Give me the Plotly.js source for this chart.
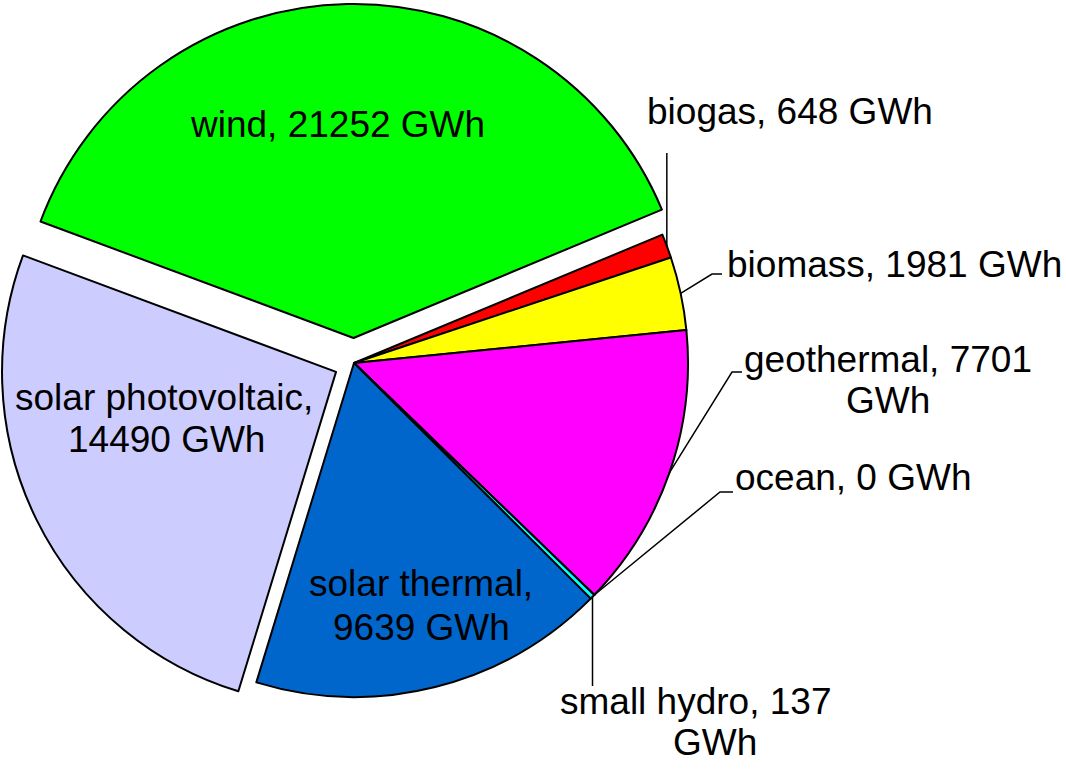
<!DOCTYPE html>
<html><head><meta charset="utf-8">
<script src="https://cdn.plot.ly/plotly-3.0.1.min.js"></script>
<style>html,body{margin:0;padding:0;overflow:hidden;background:#fff}
#chart{position:absolute;left:-10px;top:0;width:1076px;height:778px}</style>
</head><body><div id="chart"></div>
<script>
// ---- data (clockwise order as drawn) ----
const categories = ['biogas','biomass','geothermal','ocean','small hydro','solar thermal','solar photovoltaic','wind'];
const values = [648, 1981, 7701, 0, 137, 9639, 14490, 21252];
const unit = 'GWh';
const colors = ['#FF0000','#FFFF00','#FF00FF','#000080','#00FFFF','#0066CC','#CCCCFF','#00FF00'];
const pulls = [0, 0, 0, 0, 0, 0, 0.06, 0.075];

// ---- layout constants (page pixels) ----
const SHIFT = 10, W = 1076, H = 778;
const CX = 354, CY = 363, R = 334, ROT = 67.4;
const FS = 37;
const maxPull = Math.max(...pulls);
const half = R * (1 + maxPull);
const domX = [(CX + SHIFT - half) / W, (CX + SHIFT + half) / W];
const domY = [1 - (CY + half) / H, 1 - (CY - half) / H];

const total = values.reduce((a, b) => a + b, 0);
const midAngle = [];
let acc = ROT;
values.forEach(v => { const span = 360 * v / total; midAngle.push(acc + span / 2); acc += span; });
function edge(i) {
  const a = midAngle[i] * Math.PI / 180;
  return [CX + R * Math.sin(a), CY - R * Math.cos(a)];
}

const labelText = categories.map((c, i) => `${c}, ${values[i]} ${unit}`);

// placement: words on first line, line centres, baselines, leader elbows
const placement = {
  'biogas':             {first: 0, x: [790],      base: [124],      leader: [['e', 153]]},
  'biomass':            {first: 0, x: [894],      base: [277],      leader: [[722, 274], [712, 274]]},
  'geothermal':         {first: 2, x: [888, 888], base: [372, 413], leader: [[742, 372], [732, 372]]},
  'ocean':              {first: 0, x: [853],      base: [490],      leader: [[733, 492], [720, 492]]},
  'small hydro':        {first: 3, x: [695, 715], base: [714, 755], leader: [['e', 686]]},
  'solar thermal':      {first: 2, x: [421, 421], base: [596, 640], leader: null},
  'solar photovoltaic': {first: 2, x: [164, 166], base: [410, 452], leader: null},
  'wind':               {first: 0, x: [337],      base: [137],      leader: null}
};

const annotations = [];
const shapes = [];
categories.forEach((c, i) => {
  const p = placement[c];
  const words = labelText[i].split(' ');
  const lines = p.first ? [words.slice(0, p.first).join(' '), words.slice(p.first).join(' ')] : [labelText[i]];
  lines.forEach((t, k) => {
    annotations.push({
      text: t, x: p.x[k], y: p.base[k] - 0.3465 * FS, xref: 'x', yref: 'y',
      xanchor: 'center', yanchor: 'middle', showarrow: false, borderpad: 0,
      font: {family: 'Liberation Sans, Arial, sans-serif', size: FS, color: '#000'}
    });
  });
  if (p.leader) {
    const e = edge(i);
    const pts = p.leader.map(q => [q[0] === 'e' ? e[0] : q[0], q[1]]);
    pts.push(e);
    shapes.push({
      type: 'path', xref: 'x', yref: 'y', layer: 'above',
      path: 'M' + pts.map(q => q[0].toFixed(2) + ',' + q[1].toFixed(2)).join(' L'),
      line: {color: '#000', width: 1.5}
    });
  }
});

const data = [
  {type: 'scatter', x: [], y: [], hoverinfo: 'skip', showlegend: false},
  {
    type: 'pie', labels: categories, values: values, sort: false,
    direction: 'clockwise', rotation: ROT, pull: pulls,
    marker: {colors: colors, line: {color: '#000', width: 2}},
    textinfo: 'none', hoverinfo: 'label+value', showlegend: false,
    domain: {x: domX, y: domY}
  }
];

const layout = {
  width: W, height: H, margin: {l: 0, r: 0, t: 0, b: 0, pad: 0},
  paper_bgcolor: '#fff', plot_bgcolor: 'rgba(0,0,0,0)', showlegend: false,
  xaxis: {range: [-SHIFT, W - SHIFT], visible: false, fixedrange: true, domain: [0, 1]},
  yaxis: {range: [H, 0], visible: false, fixedrange: true, domain: [0, 1]},
  annotations: annotations, shapes: shapes
};

Plotly.newPlot('chart', data, layout, {displayModeBar: false, staticPlot: true});
</script></body></html>
